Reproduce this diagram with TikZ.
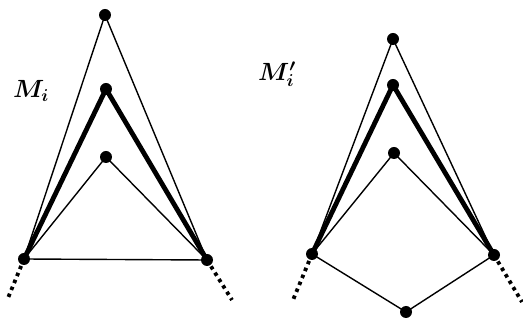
\documentclass[tikz,border=0pt]{standalone}
\usepackage{bm}
\begin{document}
\begin{tikzpicture}[x=1pt,y=-1pt,
  dot/.style={circle,fill=black,inner sep=0pt,minimum size=12pt},
  thin line/.style={line width=1.4pt},
  thick line/.style={line width=4.8pt},
  tail/.style={line width=3.8pt,dash pattern=on 3.5pt off 4pt},
  lab/.style={font=\fontsize{24}{28}\selectfont,inner sep=0pt}]
\useasboundingbox (0,0) rectangle (523,320);
% left
\node[dot] (lt) at (105,15) {};
\node[dot] (lm) at (106,89) {};
\node[dot] (li) at (106,157) {};
\node[dot] (ll) at (24,259) {};
\node[dot] (lr) at (207,260) {};
\coordinate (lle) at (8,298);
\coordinate (lre) at (232,300);
\draw[thin line] (lt.center) -- (ll.center) (lt.center) -- (lr.center);
\draw[thin line] (li.center) -- (ll.center) (li.center) -- (lr.center);
\draw[thin line] (ll.center) -- (lr.center);
\draw[thick line,line join=round] (ll.center) -- (lm.center) -- (lr.center);
\draw[tail] (ll.center) -- (lle);
\draw[tail] (lr.center) -- (lre);
\node[lab] (lablm) at (31,91) {$\bm{M_i}$};
% right
\node[dot] (rt) at (393,39) {};
\node[dot] (rm) at (393,85) {};
\node[dot] (ri) at (394,153) {};
\node[dot] (rl) at (312,254) {};
\node[dot] (rr) at (494,255) {};
\node[dot] (rb) at (406,312) {};
\coordinate (rle) at (293,300);
\coordinate (rre) at (522,302);
\draw[thin line] (rt.center) -- (rl.center) (rt.center) -- (rr.center);
\draw[thin line] (ri.center) -- (rl.center) (ri.center) -- (rr.center);
\draw[thin line] (rl.center) -- (rb.center) -- (rr.center);
\draw[thick line,line join=round] (rl.center) -- (rm.center) -- (rr.center);
\draw[tail] (rl.center) -- (rle);
\draw[tail] (rr.center) -- (rre);
\node[lab] (labrm) at (277,74) {$\bm{M_i'}$};
\end{tikzpicture}
\end{document}
